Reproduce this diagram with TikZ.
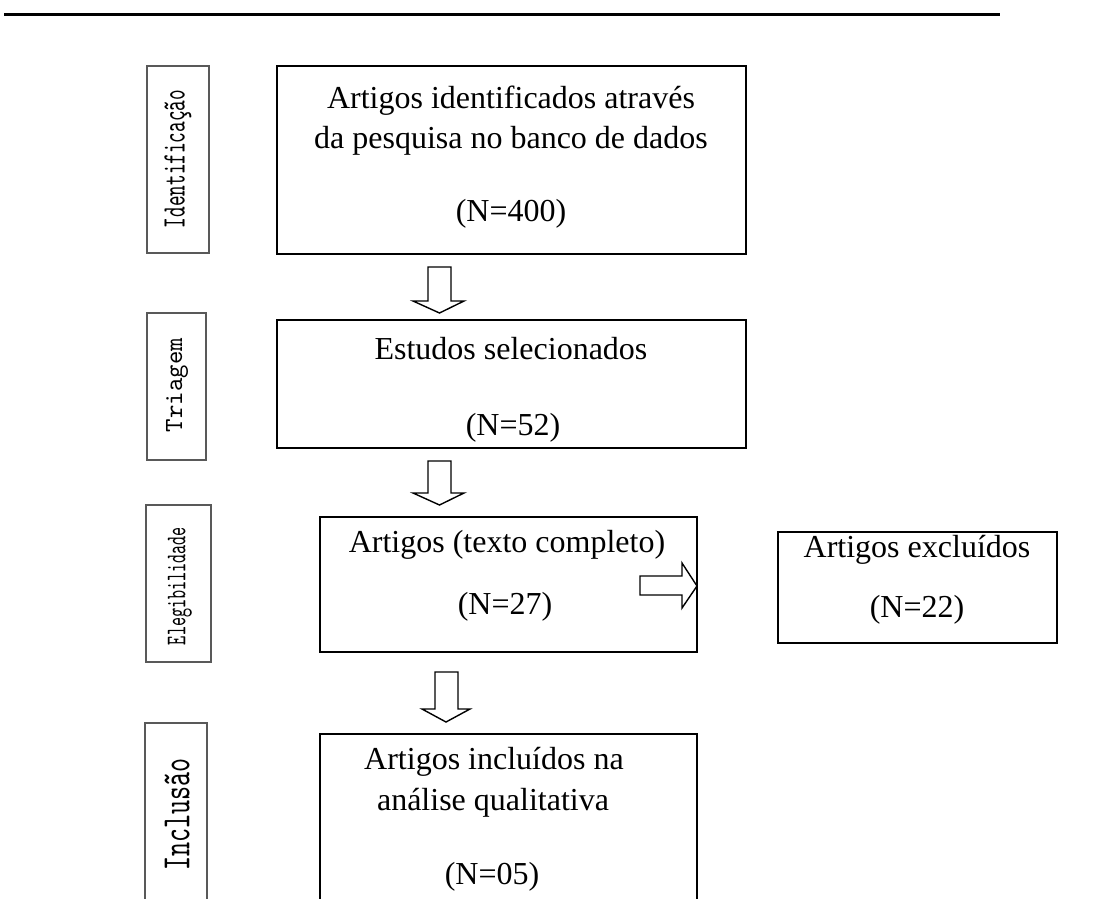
\documentclass[tikz,border=0pt]{standalone}
\usepackage{fontspec}
\setmainfont{Liberation Serif}
\usepackage{graphicx}
\begin{document}
\begin{tikzpicture}[x=1pt,y=-1pt,
  mainbox/.style={draw=black,line width=1.6pt},
  sidebox/.style={draw=black!65,line width=2pt},
  txt/.style={inner sep=0pt,font=\fontsize{32}{40}\selectfont},
  side/.style={inner sep=0pt,rotate=90},
  blockarrow/.style={draw=black,line width=1.4pt,fill=white,line join=miter}]
\useasboundingbox (0,0) rectangle (1103,898);
\clip (0,0) rectangle (1103,898);
% top rule
\coordinate (ruleL) at (4,14);
\coordinate (ruleR) at (1000,14);
\draw[line width=3pt] (ruleL) -- (ruleR);

% side boxes
\draw[sidebox] (147,66) rectangle (209,253);
\draw[sidebox] (147,313) rectangle (206,460);
\draw[sidebox] (146,505) rectangle (211,662);
\draw[sidebox] (145,723) rectangle (207,910);
\node[side] (s1) at (178,159) {\resizebox*{138pt}{27pt}{\ttfamily Identificação}};
\node[side] (s2) at (177,385) {\resizebox*{94pt}{22pt}{\ttfamily Triagem}};
\node[side] (s3) at (180,586) {\resizebox*{118pt}{24pt}{\ttfamily Elegibilidade}};
\node[side] (s4) at (177,814) {\resizebox*{112pt}{25pt}{\ttfamily Inclusão}};

% main boxes
\draw[mainbox] (277,66) rectangle (746,254);
\draw[mainbox] (277,320) rectangle (746,448);
\draw[mainbox] (320,517) rectangle (697,652);
\draw[mainbox] (778,532) rectangle (1057,643);
\draw[mainbox] (320,734) rectangle (697,910);

% texts
\node[txt] (t1a) at (511,101) {Artigos identificados através};
\node[txt] (t1b) at (511,141) {da pesquisa no banco de dados};
\node[txt] (t1c) at (511,214) {(N=400)};
\node[txt] (t2a) at (511,349) {Estudos selecionados};
\node[txt] (t2b) at (513,428) {(N=52)};
\node[txt] (t3a) at (507,545) {Artigos (texto completo)};
\node[txt] (t3b) at (505,607) {(N=27)};
\node[txt] (t4a) at (917,550) {Artigos excluídos};
\node[txt] (t4b) at (917,610) {(N=22)};
\node[txt] (t5a) at (494,762) {Artigos incluídos na};
\node[txt] (t5b) at (493,803) {análise qualitativa};
\node[txt] (t5c) at (492,877) {(N=05)};

% block arrows
\draw[blockarrow] (428,267) -- (451,267) -- (451,301) -- (464,301) -- (439.5,313) -- (413,301) -- (428,301) -- cycle;
\draw[blockarrow] (428,461) -- (451,461) -- (451,493) -- (464,493) -- (439.5,505) -- (413,493) -- (428,493) -- cycle;
\draw[blockarrow] (435,672) -- (458,672) -- (458,709) -- (470,709) -- (446,722) -- (422,709) -- (435,709) -- cycle;
\draw[blockarrow] (640,576) -- (682,576) -- (682,563) -- (697,586) -- (682,608) -- (682,595) -- (640,595) -- cycle;
\end{tikzpicture}
\end{document}
